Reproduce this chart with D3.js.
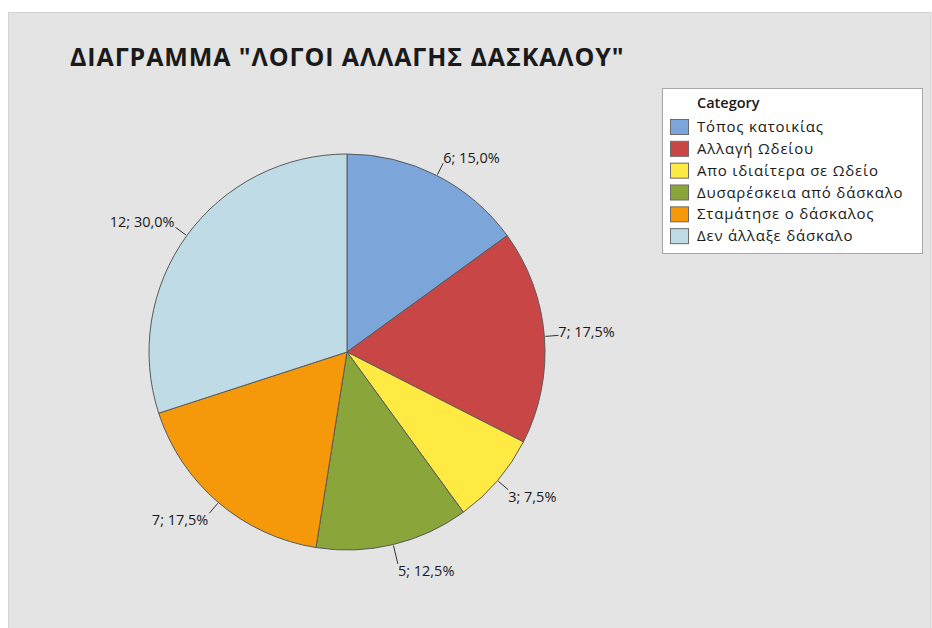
<!DOCTYPE html>
<html>
<head>
<meta charset="utf-8">
<script src="https://cdn.jsdelivr.net/npm/d3@7"></script>
<style>
  html, body { margin: 0; padding: 0; background: #ffffff; }
  svg { display: block; }
  text { font-family: "Open Sans", "Noto Sans", "DejaVu Sans", sans-serif; fill: #1a1a1a; }
</style>
</head>
<body>
<svg id="chart" width="932" height="628"></svg>
<script>
// Reasons for changing teacher (counts)
const categories = [
  "Τόπος κατοικίας",
  "Αλλαγή Ωδείου",
  "Απο ιδιαίτερα σε Ωδείο",
  "Δυσαρέσκεια από δάσκαλο",
  "Σταμάτησε ο δάσκαλος",
  "Δεν άλλαξε δάσκαλο"
];
const counts = [6, 7, 3, 5, 7, 12];
const colors = ["#7ca6d9", "#c84645", "#ffe943", "#8aa63b", "#f5980a", "#bedbe6"];
const title = "ΔΙΑΓΡΑΜΜΑ \"ΛΟΓΟΙ ΑΛΛΑΓΗΣ ΔΑΣΚΑΛΟΥ\"";
const legendTitle = "Category";

const svg = d3.select("#chart");
const W = 932, H = 628;

// Grey chart panel
svg.append("rect")
  .attr("x", 8.5).attr("y", 12.5)
  .attr("width", W - 9.5).attr("height", H - 12)
  .attr("fill", "#e4e4e4")
  .attr("stroke", "#d2d2d2");

svg.append("text")
  .attr("x", 70).attr("y", 66)
  .attr("font-size", 25)
  .attr("font-weight", 700)
  .attr("letter-spacing", 0.9)
  .text(title);

// Pie
const cx = 347, cy = 352, R = 198;
const total = d3.sum(counts);
const data = categories.map((c, i) => ({ cat: c, value: counts[i], color: colors[i] }));
const pie = d3.pie().value(d => d.value).sort(null);
const arcs = pie(data);
const arc = d3.arc().innerRadius(0).outerRadius(R);

const g = svg.append("g").attr("transform", `translate(${cx},${cy})`);
g.selectAll("path.slice")
  .data(arcs)
  .join("path")
  .attr("class", "slice")
  .attr("d", arc)
  .attr("fill", d => d.data.color)
  .attr("stroke", "#5a5a5a")
  .attr("stroke-width", 1)
  .attr("stroke-linejoin", "round");

// Labels "n; p%" with short radial leader lines
const fmtPct = v => d3.format(".1f")(v).replace(".", ",") + "%";
arcs.forEach(a => {
  const mid = (a.startAngle + a.endAngle) / 2;
  const s = Math.sin(mid), c = Math.cos(mid);
  // leaders pointing straight down run a little longer
  const leaderLen = c < -0.9 ? 20 : 14;
  const x0 = s * (R + 1), y0 = -c * (R + 1);
  const x1 = s * (R + leaderLen), y1 = -c * (R + leaderLen);
  g.append("line")
    .attr("x1", x0).attr("y1", y0).attr("x2", x1).attr("y2", y1)
    .attr("stroke", "#333").attr("stroke-width", 1);
  let baseline;
  if (c > 0.3) baseline = "auto";
  else if (c < -0.3) baseline = "hanging";
  else baseline = "middle";
  g.append("text")
    .attr("x", x1 + (s >= 0 ? 0 : -1))
    .attr("y", y1 + (c > 0.3 ? 0 : (c < -0.3 ? 0 : -2)))
    .attr("text-anchor", s >= 0 ? "start" : "end")
    .attr("dominant-baseline", baseline)
    .attr("font-size", 14.5)
    .text(`${a.data.value}; ${fmtPct(a.data.value / total * 100)}`);
});

// Legend
const lx = 662, ly = 88;
const lg = svg.append("g").attr("transform", `translate(${lx},${ly})`);
lg.append("rect")
  .attr("x", 0.5).attr("y", 0.5)
  .attr("width", 260).attr("height", 165)
  .attr("fill", "#ffffff")
  .attr("stroke", "#a8a8a8");
lg.append("text")
  .attr("x", 35).attr("y", 20)
  .attr("font-size", 14.5)
  .attr("font-weight", 600)
  .text(legendTitle);
const rowY = d3.scaleBand().domain(categories).range([28, 159]).padding(0);
categories.forEach((c, i) => {
  const y = rowY(c);
  lg.append("rect")
    .attr("x", 8.5).attr("y", y + 3.5)
    .attr("width", 18).attr("height", 15)
    .attr("fill", colors[i])
    .attr("stroke", "#6a6a6a");
  lg.append("text")
    .attr("x", 35).attr("y", y + 16)
    .attr("font-size", 15)
    .attr("font-weight", 500)
    .attr("letter-spacing", 0.8)
    .text(c);
});
</script>
</body>
</html>
